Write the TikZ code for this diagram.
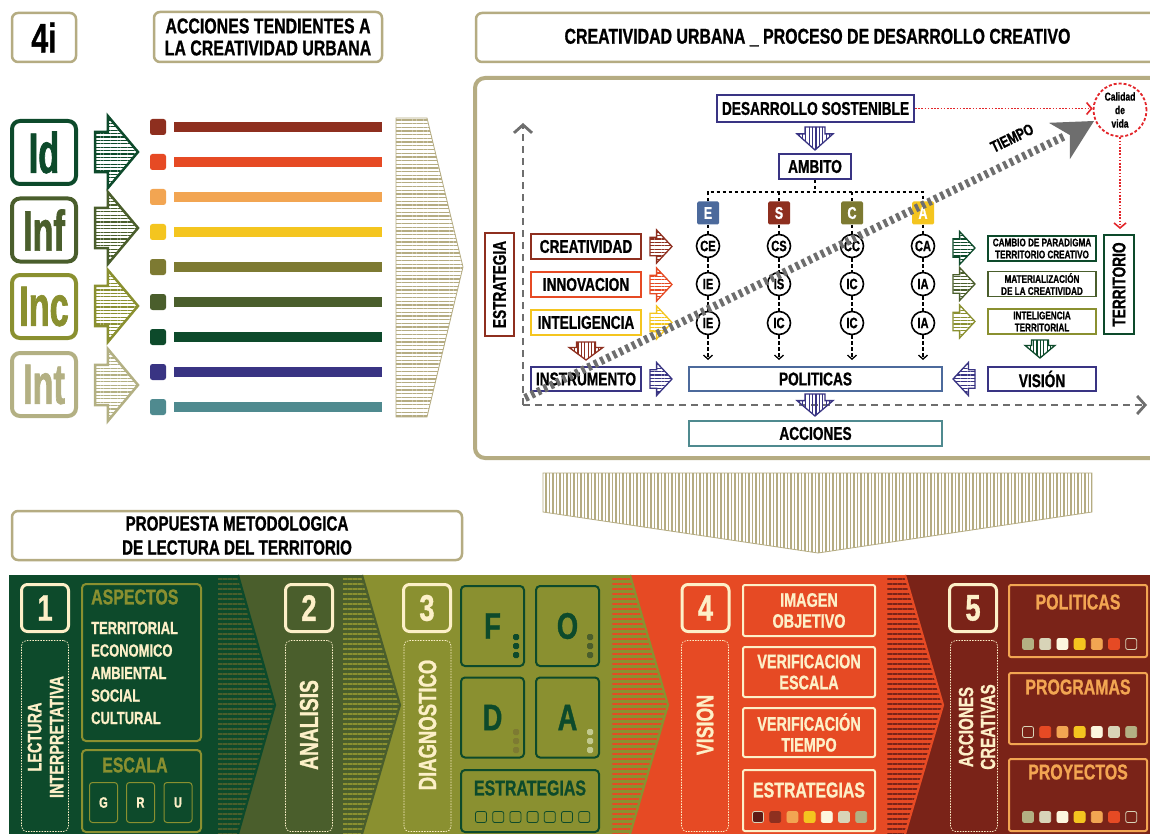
\documentclass[tikz,border=0pt]{standalone}
\usepackage{fontspec}
\setmainfont{Liberation Sans}
\newfontfamily\cf{Liberation Sans}[FakeStretch=0.74,FakeBold=0.9]
\newfontfamily\cfx{Liberation Sans}[FakeStretch=0.6,FakeBold=1.2]
\usetikzlibrary{arrows.meta,patterns.meta}
\definecolor{khaki}{HTML}{B5AC82}
\definecolor{dgreen}{HTML}{0D4A2B}
\definecolor{ogreen}{HTML}{4A5E2C}
\definecolor{olive}{HTML}{8A9030}
\definecolor{pkhaki}{HTML}{B3B083}
\definecolor{brownred}{HTML}{8E2F1F}
\definecolor{orred}{HTML}{E64A24}
\definecolor{lorange}{HTML}{F2A552}
\definecolor{yel}{HTML}{F4C51F}
\definecolor{olivetwo}{HTML}{7D7A32}
\definecolor{indigo}{HTML}{393483}
\definecolor{tealb}{HTML}{4F8A8F}
\definecolor{steel}{HTML}{4C6A9C}
\definecolor{maroon}{HTML}{7A2318}
\definecolor{cream}{HTML}{FDF0C8}
\definecolor{greyd}{HTML}{6E6E6E}
\definecolor{redd}{HTML}{E3262B}
\definecolor{dred}{HTML}{5E1A14}
\definecolor{lgrey}{HTML}{D8D4B8}
\definecolor{wcream}{HTML}{FDF6DE}
\definecolor{dotlight}{HTML}{C2C98E}
\newcommand\fs[2]{\cf\bfseries\fontsize{#1}{#2}\selectfont}
\newcommand\fx[2]{\cfx\bfseries\fontsize{#1}{#2}\selectfont}
% right/left block arrow: cx cy length width colour dir linewidth
\newcommand\rarr[7]{%
  \begin{scope}[shift={(#1,#2)},xscale=#6]
    \path[draw=#5,line width=#7pt,line join=miter,
      pattern={Lines[angle=0,distance=3.4pt,line width=1.1pt]},pattern color=#5]
      ({-0.5*#3},{-0.28*#4}) -- ({-0.2*#3},{-0.28*#4}) -- ({-0.2*#3},{-0.5*#4})
      -- ({0.5*#3},0) -- ({-0.2*#3},{0.5*#4}) -- ({-0.2*#3},{0.28*#4})
      -- ({-0.5*#3},{0.28*#4}) -- cycle;
  \end{scope}}
% down block arrow: cx cy length width colour
\newcommand\darr[5]{%
  \begin{scope}[shift={(#1,#2)}]
    \path[draw=#5,line width=1.3pt,line join=miter,
      pattern={Lines[angle=90,distance=3.4pt,line width=1.1pt]},pattern color=#5]
      ({-0.28*#4},{-0.5*#3}) -- ({0.28*#4},{-0.5*#3}) -- ({0.28*#4},{-0.2*#3})
      -- ({0.5*#4},{-0.2*#3}) -- (0,{0.5*#3}) -- ({-0.5*#4},{-0.2*#3})
      -- ({-0.28*#4},{-0.2*#3}) -- cycle;
  \end{scope}}
% band chevron: x1 x2 tip base stripe
\newcommand\chev[5]{%
  \path[preaction={fill=#4},pattern={Lines[angle=0,distance=5pt,line width=2.4pt]},pattern color=#5]
    (#1,575) -- (#2,575) -- (#3,705) -- (#2,834) -- (#1,834) -- cycle;
  \draw[#4,line width=2.2pt] (#2,575) -- (#3,705) -- (#2,834);}
\begin{document}
\begin{tikzpicture}[x=1pt,y=-1pt,
  tb/.style={draw=khaki,line width=2.5pt,rounded corners=6pt,fill=white,inner sep=0pt},
  bx/.style={draw=#1,line width=1.8pt,fill=white,inner sep=0pt,font=\fs{18.5}{20}},
  sb/.style={draw=#1,line width=1.8pt,fill=white,inner sep=0pt,minimum width=108pt,minimum height=25pt,font=\fs{11}{12},align=center},
  circ/.style={circle,draw=black,line width=1.6pt,minimum size=23pt,inner sep=0pt,fill=white,font=\fs{15}{15}},
  tree/.style={draw=black,line width=1.3pt,dash pattern=on 3.5pt off 2.5pt},
  axis/.style={draw=greyd,line width=2.8pt,dash pattern=on 7pt off 5pt,-{Straight Barb[length=8pt,width=18pt]}},
  reddot/.style={draw=redd,line width=1.6pt,dash pattern=on 1.6pt off 1.6pt,-{Straight Barb[length=5pt,width=12pt]}},
  nb/.style={draw=cream,line width=3pt,rounded corners=6pt,minimum width=47pt,minimum height=47pt,inner sep=0pt,text=cream,font=\fs{37}{37}},
  db/.style={draw=cream,line width=0.7pt,dash pattern=on 1.5pt off 1.2pt,rounded corners=5pt,minimum width=47pt,minimum height=191pt,inner sep=0pt},
  rt/.style={rotate=90,text=cream,inner sep=0pt,align=center},
  fb/.style={draw=dgreen,line width=2pt,rounded corners=4pt,minimum width=63pt,minimum height=80pt,text=dgreen,font=\fs{37}{37},inner sep=0pt},
  ob/.style={draw=cream,line width=2pt,rounded corners=2pt,minimum width=132pt,inner sep=0pt,text=cream,align=center,font=\fs{19.5}{21}},
  mb/.style={draw=lorange,line width=2pt,rounded corners=2pt,minimum width=138pt,inner sep=0pt},
  sqr/.style={minimum size=11pt,inner sep=0pt,rounded corners=2pt,line width=0.8pt},
  dot/.style={minimum size=6pt,inner sep=0pt,rounded corners=1.5pt,fill=#1}
]
\useasboundingbox (0,0) rectangle (1150,834);
\clip (0,0) rectangle (1150,834);
\fill[white] (0,0) rectangle (1150,834);

% ---------- top titles
\node[tb,minimum width=64pt,minimum height=49pt,font=\fs{41}{41}] (four) at (44,37.5) {4i};
\node[tb,minimum width=228pt,minimum height=50pt,font=\fs{21.5}{22},align=center] (acc) at (268,37) {ACCIONES TENDIENTES A\\LA CREATIVIDAD URBANA};
\node[tb,minimum width=683pt,minimum height=49pt,font=\fs{21.5}{22}] (head) at (817.5,37.5) {CREATIVIDAD URBANA \_ PROCESO DE DESARROLLO CREATIVO};

% ---------- left icons
\foreach \yy/\co/\tx in {152.5/dgreen/Id,230/ogreen/Inf,306.5/olive/Inc,384.5/pkhaki/Int}
  \node[draw=\co,line width=4pt,rounded corners=8pt,minimum width=64pt,minimum height=63pt,inner sep=0pt,text=\co,font=\fx{57}{57}] (ic\tx) at (44,\yy) {\tx};
\rarr{116.5}{152}{43}{72}{dgreen}{1}{2.5}
\rarr{116.5}{228}{43}{72}{ogreen}{1}{2.5}
\rarr{116.5}{306}{43}{72}{olive}{1}{2.5}
\rarr{116.5}{385}{43}{72}{pkhaki}{1}{2.5}
\foreach \i/\co in {0/brownred,1/orred,2/lorange,3/yel,4/olivetwo,5/ogreen,6/dgreen,7/indigo,8/tealb}{
  \node[fill=\co,rounded corners=2.5pt,minimum size=16pt,inner sep=0pt] (sq\i) at (158,127+35*\i) {};
  \fill[\co] (174,122+35*\i) rectangle (382,132+35*\i);
}
\path[draw=khaki,line width=0.8pt,pattern={Lines[angle=0,distance=3.7pt,line width=1.3pt]},pattern color=khaki]
  (396,118) -- (427,118) -- (463,267) -- (427,417) -- (396,417) -- cycle;

% ---------- big frame
\draw[khaki,line width=4pt,rounded corners=10pt] (475,78) rectangle (1170,458);

\coordinate (org) at (523,405);
\coordinate (ytop) at (523,123);
\coordinate (xend) at (1147,405);
\draw[axis] (org) -- (ytop);
\draw[axis] (org) -- (xend);

\node[bx=indigo,minimum width=197pt,minimum height=27pt] (ds) at (815.5,108.5) {DESARROLLO SOSTENIBLE};
\darr{815}{138.5}{23}{36}{indigo}
\node[bx=indigo,minimum width=72pt,minimum height=25pt] (amb) at (815,166.5) {AMBITO};

\foreach \n/\xx/\co in {E/708/steel,S/779/brownred,C/852/olivetwo,A/923/yel}
  \node[fill=\co,rounded corners=1.5pt,minimum width=22pt,minimum height=23pt,inner sep=0pt,text=white,font=\fs{17}{17}] (l\n) at (\xx,213) {\n};
\coordinate (tj) at (815,192);
\draw[tree] (amb.south) -- (tj);
\draw[tree] (lE.north) |- (lA.north |- tj) -- (lA.north);
\draw[tree] (lS.north) -- (lS.north |- tj);
\draw[tree] (lC.north) -- (lC.north |- tj);

\foreach \n/\xx/\ta/\tb/\tc in {E/708/CE/IE/IE,S/779/CS/IS/IC,C/852/CC/IC/IC,A/923/CA/IA/IA}{
  \node[circ] (ca\n) at (\xx,246) {\ta};
  \node[circ] (cb\n) at (\xx,284) {\tb};
  \node[circ] (cc\n) at (\xx,323) {\tc};
  \coordinate (ce\n) at (\xx,360);
  \draw[tree] (l\n.south) -- (ca\n.north);
  \draw[tree] (ca\n.south) -- (cb\n.north);
  \draw[tree] (cb\n.south) -- (cc\n.north);
  \draw[tree,-{Straight Barb[length=4pt,width=9pt]}] (cc\n.south) -- (ce\n);
}

\node[bx=brownred,minimum width=110pt,minimum height=25pt] (crea) at (586,246.5) {CREATIVIDAD};
\node[bx=orred,minimum width=110pt,minimum height=25pt] (inno) at (586,284.5) {INNOVACION};
\node[bx=yel,minimum width=110pt,minimum height=25pt] (intl) at (586,322.5) {INTELIGENCIA};
\node[bx=indigo,minimum width=110pt,minimum height=24pt] (inst) at (586,379) {INSTRUMENTO};
\rarr{661}{246.5}{22}{33}{brownred}{1}{1.3}
\rarr{661}{284.5}{22}{33}{orred}{1}{1.3}
\rarr{661}{322.5}{22}{33}{yel}{1}{1.3}
\rarr{661}{379}{22}{33}{indigo}{1}{1.3}
\darr{586}{351}{18}{34}{brownred}
\node[bx=brownred,rotate=90,minimum width=103pt,minimum height=29pt] (estr) at (499.5,284.5) {ESTRATEGIA};

\node[bx=steel,minimum width=253pt,minimum height=24pt] (pol) at (815.5,379) {POLITICAS};
\darr{815}{405}{22}{36}{indigo}
\node[bx=tealb,minimum width=253pt,minimum height=25pt] (accn) at (815.5,433.5) {ACCIONES};

\node[sb=dgreen] (camb) at (1042,248.5) {CAMBIO DE PARADIGMA\\TERRITORIO CREATIVO};
\node[sb=ogreen] (mat) at (1042,284) {MATERIALIZACIÓN\\DE LA CREATIVIDAD};
\node[sb=olive] (intt) at (1042,321.5) {INTELIGENCIA\\TERRITORIAL};
\node[bx=indigo,minimum width=108pt,minimum height=24pt] (vis) at (1042,379) {VISIÓN};
\rarr{964}{248}{22}{33}{dgreen}{1}{1.3}
\rarr{964}{284}{22}{33}{ogreen}{1}{1.3}
\rarr{964}{321.5}{22}{33}{olive}{1}{1.3}
\rarr{964}{379}{22}{33}{indigo}{-1}{1.3}
\darr{1040}{349}{18}{30}{dgreen}
\node[bx=dgreen,rotate=90,minimum width=99pt,minimum height=30pt] (terr) at (1119,284.5) {TERRITORIO};

\node[circle,draw=redd,dash pattern=on 3pt off 2pt,line width=1.8pt,minimum size=53pt,inner sep=0pt,fill=white,align=center,font=\fs{11.5}{13.5}] (cal) at (1120,110) {Calidad\\de\\vida};
\coordinate (tt) at (1120,229);
\draw[reddot] (ds.east) -- (cal.west |- ds.east);
\draw[reddot] (cal.south) -- (tt);

% TIEMPO
\coordinate (t0) at (525,398);
\coordinate (t1) at (1065,136);
\draw[greyd,line width=8pt,dash pattern=on 3.5pt off 3.5pt] (t0) -- (t1);
\begin{scope}[shift={(1094,121)},rotate=30]
  \fill[greyd] (0,0) -- (-40,-21) -- (-28,0) -- (-40,21) -- cycle;
\end{scope}
\node[rotate=26,font=\fs{16}{16},inner sep=0pt] (tiempo) at (1012,138) {TIEMPO};

% ---------- lower titles
\node[tb,minimum width=450pt,minimum height=49pt,font=\fs{20.5}{24},align=center] (prop) at (237,535.5) {PROPUESTA METODOLOGICA\\DE LECTURA DEL TERRITORIO};
\path[draw=khaki,line width=0.8pt,pattern={Lines[angle=90,distance=3.5pt,line width=1.2pt]},pattern color=khaki]
  (543,473) -- (1092,473) -- (1092,512) -- (818,553) -- (543,512) -- cycle;

% ---------- band
\fill[dgreen] (9,575) rectangle (238,834);
\fill[ogreen] (238,575) rectangle (362,834);
\fill[olive] (362,575) rectangle (630,834);
\fill[orred] (630,575) rectangle (905,834);
\fill[maroon] (905,575) rectangle (1150,834);
\chev{218}{238}{275}{dgreen}{ogreen}
\chev{343}{362}{400}{ogreen}{olive}
\chev{612}{630}{668}{olive}{orred}
\chev{887}{905}{943}{orred}{maroon}

% segment 1
\node[nb] (n1) at (45,608) {1};
\node[db] (d1) at (45,736) {};
\node[rt,font=\fs{19.5}{22}] (r1) at (45.5,737) {LECTURA\\INTERPRETATIVA};
\node[draw=olive,line width=2pt,rounded corners=4pt,minimum width=119pt,minimum height=157pt,inner sep=0pt] (asp) at (141.5,662.5) {};
\node[anchor=west,inner sep=0pt,text=olive,font=\fs{21.5}{21}] (aspt) at (91,597) {ASPECTOS};
\foreach \i/\tx in {0/TERRITORIAL,1/ECONOMICO,2/AMBIENTAL,3/SOCIAL,4/CULTURAL}
  \node[anchor=west,inner sep=0pt,text=cream,font=\fs{17.5}{17}] (it\i) at (91,628+22.5*\i) {\tx};
\node[draw=olive,line width=2pt,rounded corners=4pt,minimum width=119pt,minimum height=82pt,inner sep=0pt] (esc) at (141.5,791) {};
\node[anchor=west,inner sep=0pt,text=olive,font=\fs{21.5}{21}] (esct) at (102,765) {ESCALA};
\foreach \n/\xx in {G/103.5,R/140.5,U/178}
  \node[draw=olive,line width=1pt,rounded corners=3pt,minimum width=28pt,minimum height=40pt,inner sep=0pt,text=cream,font=\fs{15}{15}] (g\n) at (\xx,802.5) {\n};

% segment 2
\node[nb] (n2) at (309,608) {2};
\node[db] (d2) at (309,736) {};
\node[rt,font=\fs{26}{26}] (r2) at (309,725) {ANALISIS};

% segment 3
\node[nb] (n3) at (427,608) {3};
\node[db] (d3) at (427.5,736) {};
\node[rt,font=\fs{25}{25}] (r3) at (427.5,725) {DIAGNOSTICO};
\node[fb] (fF) at (492.5,626) {F};
\node[fb] (fO) at (567.5,626) {O};
\node[fb] (fD) at (492.5,717.5) {D};
\node[fb] (fA) at (567.5,717.5) {A};
\foreach \k in {0,1,2}{
  \node[dot=dgreen] (dF\k) at (516,637+9*\k) {};
  \node[dot=ogreen] (dO\k) at (590,637+9*\k) {};
  \node[dot=olivetwo] (dD\k) at (516,732+9*\k) {};
  \node[dot=dotlight] (dA\k) at (590,732+9*\k) {};
}
\node[draw=dgreen,line width=2pt,rounded corners=4pt,minimum width=138pt,minimum height=62pt,inner sep=0pt] (fe) at (530,801) {};
\node[text=dgreen,font=\fs{21.5}{21},inner sep=0pt] (fet) at (530,788) {ESTRATEGIAS};
\foreach \k in {0,...,6}
  \node[sqr,draw=dgreen] (fs\k) at (481+17.2*\k,817) {};

% segment 4
\node[nb] (n4) at (705.5,608) {4};
\node[db] (d4) at (705,736) {};
\node[rt,font=\fs{24}{24}] (r4) at (705,725) {VISION};
\node[ob,minimum height=51pt] (img) at (809,610.5) {IMAGEN\\OBJETIVO};
\node[ob,minimum height=50pt] (ve) at (809,672) {VERIFICACION\\ESCALA};
\node[ob,minimum height=49pt] (vt) at (809,732.5) {VERIFICACIÓN\\TIEMPO};
\node[ob,minimum height=61pt] (oe) at (809,800.5) {};
\node[text=cream,font=\fs{21.5}{21},inner sep=0pt] (oet) at (809,790) {ESTRATEGIAS};
\foreach \k/\co/\dc in {0/dred/lgrey,1/brownred/brownred,2/lorange/lorange,3/yel/yel,4/wcream/wcream,5/lgrey/lgrey,6/pkhaki/pkhaki}
  \node[sqr,fill=\co,draw=\dc] (os\k) at (758+17.2*\k,817) {};

% segment 5
\node[nb] (n5) at (973,608) {5};
\node[db] (d5) at (974,736) {};
\node[rt,font=\fs{20.5}{22}] (r5) at (977,727) {ACCIONES\\CREATIVAS};
\node[mb,minimum height=72pt] (mpol) at (1078,621) {};
\node[mb,minimum height=71pt] (mprg) at (1078,708.5) {};
\node[mb,minimum height=72pt] (mpry) at (1078,795) {};
\node[text=lorange,font=\fs{21.5}{21},inner sep=0pt] (mpolt) at (1078,602) {POLITICAS};
\node[text=lorange,font=\fs{21.5}{21},inner sep=0pt] (mprgt) at (1078,687) {PROGRAMAS};
\node[text=lorange,font=\fs{21.5}{21},inner sep=0pt] (mpryt) at (1078,772) {PROYECTOS};
\foreach \k/\co/\dc in {0/pkhaki/pkhaki,1/lgrey/lgrey,2/wcream/wcream,3/yel/yel,4/lorange/lorange,5/orred/orred,6/maroon/lgrey}{
  \node[sqr,fill=\co,draw=\dc] (pa\k) at (1028+17.2*\k,644) {};
  \node[sqr,fill=\co,draw=\dc] (pc\k) at (1028+17.2*\k,817) {};
}
\foreach \k/\co/\dc in {0/maroon/lgrey,1/orred/orred,2/lorange/lorange,3/yel/yel,4/wcream/wcream,5/lgrey/lgrey,6/pkhaki/pkhaki}
  \node[sqr,fill=\co,draw=\dc] (pb\k) at (1028+17.2*\k,732) {};
\end{tikzpicture}
\end{document}
